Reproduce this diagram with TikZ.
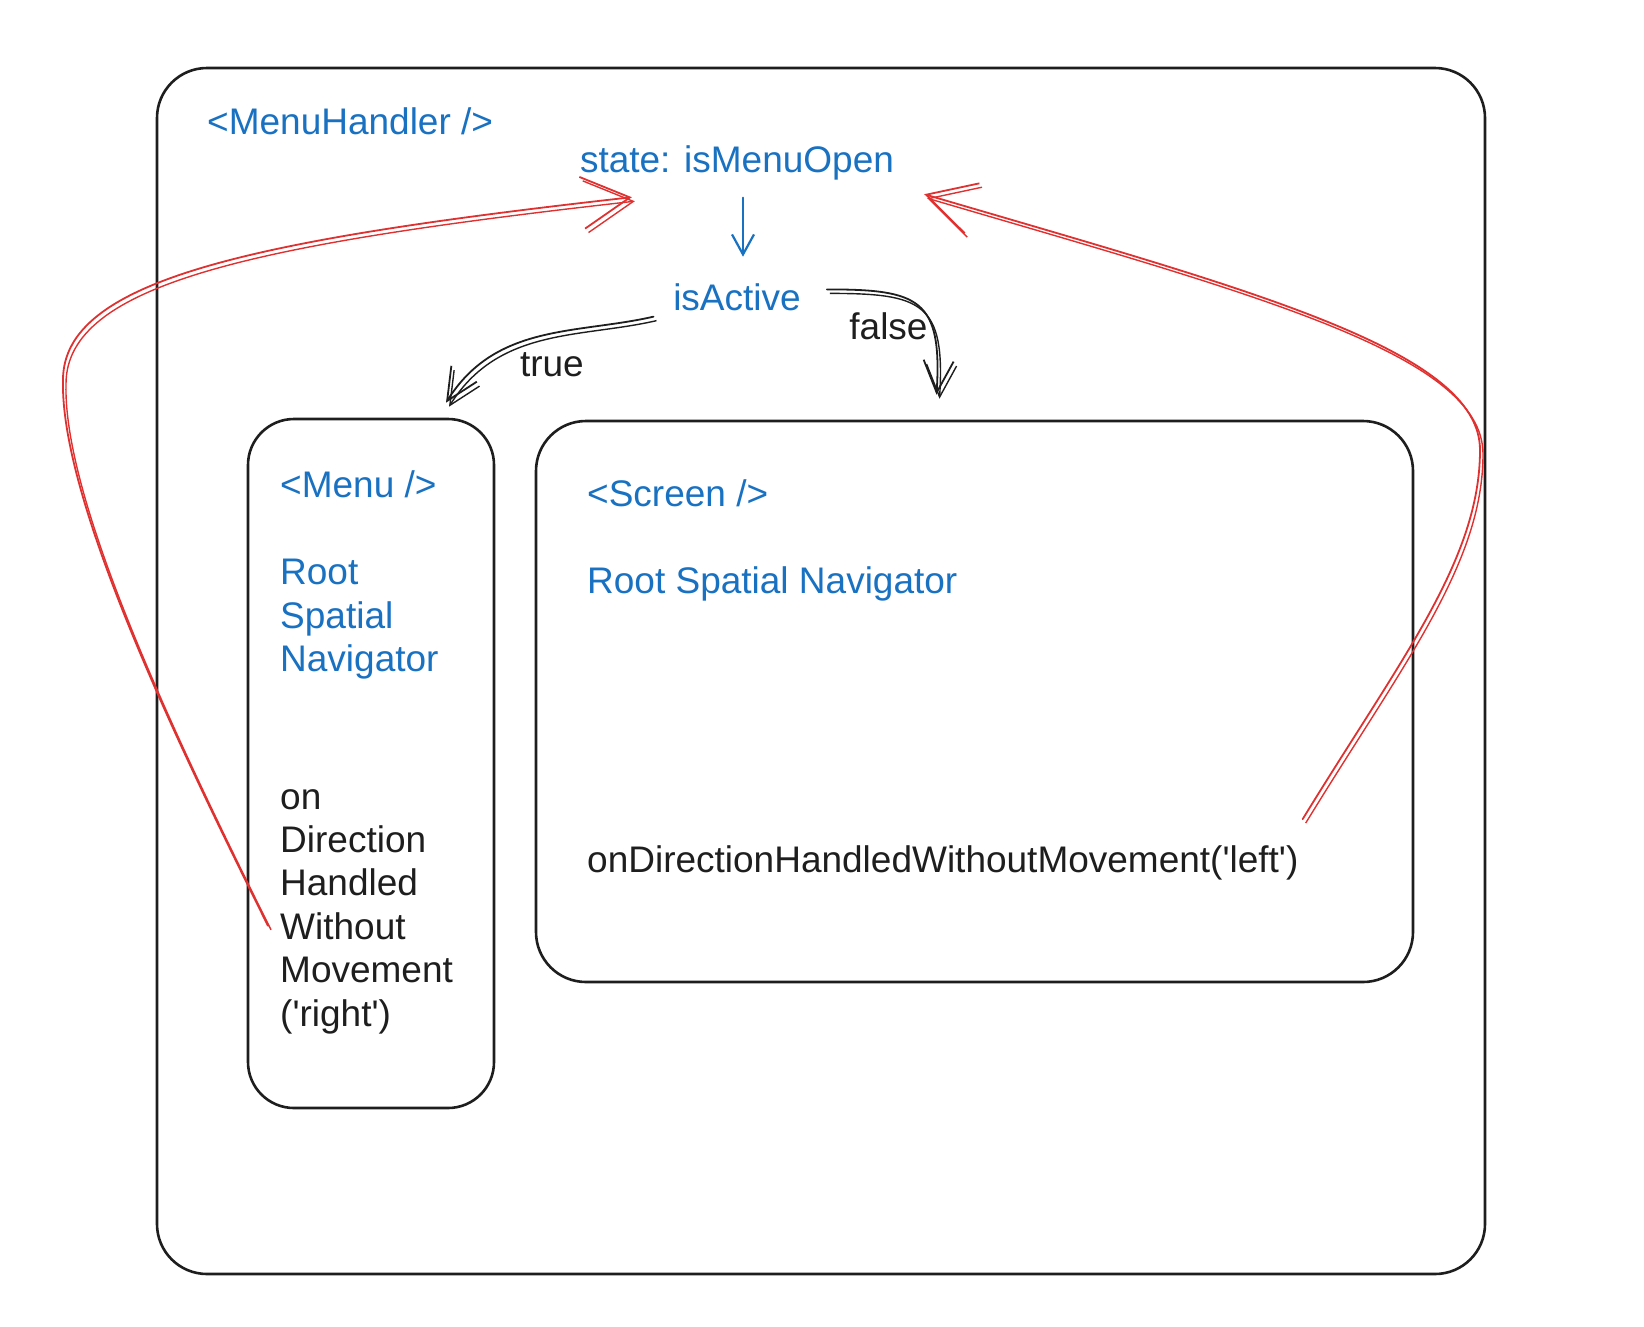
\documentclass[tikz,border=0pt]{standalone}
\usepackage{fontspec}
\setmainfont{Liberation Sans}
\usepackage{xcolor}
\usepackage{tikz}
\usetikzlibrary{arrows.meta,positioning,calc}

\definecolor{ink}{HTML}{1E1E1E}
\definecolor{codeblue}{HTML}{1971C2}
\definecolor{alarm}{HTML}{E03131}

\begin{document}
\begin{tikzpicture}[x=1pt, y=1pt, node distance=44pt,
    box/.style={draw=ink, line width=2.6pt, rounded corners=50pt, inner sep=0pt},
    code/.style={font=\fontsize{37}{43}\selectfont, text height=32pt, text depth=5pt, inner xsep=4pt, inner ysep=3pt},
    sketch/.style={preaction={draw=#1, line width=1.4pt, transform canvas={xshift=3pt, yshift=-4pt}}},
    flow/.style={->, >={Straight Barb[length=32pt, width=30pt]}, draw=ink, line width=1.8pt, line cap=round, sketch=ink},
    hint/.style={->, >={Straight Barb[length=20pt, width=22pt]}, draw=codeblue, line width=2.2pt, line cap=round},
    jump/.style={->, >={Straight Barb[length=48pt, width=52pt]}, draw=alarm, line width=1.8pt, line cap=round, sketch=alarm}]
    \useasboundingbox (0,0) rectangle (1644,-1326);

    % containers
    \node[box, minimum width=1328pt, minimum height=1206pt] (handler) at (821,-671) {};
    \node[box, rounded corners=46pt, minimum width=246pt, minimum height=689pt] (menu) at (371,-763.5) {};
    \node[box, minimum width=877pt, minimum height=561pt] (screen) at (974.5,-701.5) {};

    % handler state
    \node[code, text=codeblue, anchor=west] (handlertitle) at (203,-121) {<MenuHandler />};
    \node[code, text=codeblue] (state) at (737,-159) {state: isMenuOpen};
    \node[code, text=codeblue, below=95pt of state] (isActive) {isActive};

    % menu column
    \node[code, text=codeblue, anchor=west] (menutitle) at (276,-484) {<Menu />};
    \node[code, text=codeblue, below=of menutitle.south west, anchor=north west] (menuroot) {Root};
    \node[code, text=codeblue, below=0pt of menuroot.south west, anchor=north west] (menuspatial) {Spatial};
    \node[code, text=codeblue, below=0pt of menuspatial.south west, anchor=north west] (menunav) {Navigator};
    \node[code, text=ink, below=94pt of menunav.south west, anchor=north west] (on) {on};
    \node[code, text=ink, below=0pt of on.south west, anchor=north west] (direction) {Direction};
    \node[code, text=ink, below=0pt of direction.south west, anchor=north west] (handled) {Handled};
    \node[code, text=ink, below=0pt of handled.south west, anchor=north west] (without) {Without};
    \node[code, text=ink, below=0pt of without.south west, anchor=north west] (movement) {Movement};
    \node[code, text=ink, below=0pt of movement.south west, anchor=north west] (right) {(\textquotesingle right\textquotesingle)};

    % screen
    \node[code, text=codeblue, anchor=west] (screentitle) at (583,-493) {<Screen />};
    \node[code, text=codeblue, below=of screentitle.south west, anchor=north west] (screenroot) {Root Spatial Navigator};
    \node[code, text=ink, below=235pt of screenroot.south west, anchor=north west] (screencall) {onDirectionHandledWithoutMovement(\textquotesingle left\textquotesingle)};

    % isActive branches
    \path ([xshift=6pt]state.south) edge[hint, shorten <=17pt, shorten >=19pt] ([xshift=6pt]isActive.north);
    \path (isActive) edge[flow, out=193, in=58, shorten <=16pt] node[code, text=ink, xshift=10pt, yshift=-27pt] {true} ([xshift=75pt,yshift=15pt]menu.north);
    \draw[flow] ([xshift=22pt,yshift=8pt]isActive.east) .. controls +(92,0) and +(6,96) .. ([xshift=-38pt,yshift=25pt]screen.north)
        node[code, text=ink, pos=0.5, xshift=-30pt, yshift=-20pt] {false};

    % callbacks back to the state
    \draw[jump] ([xshift=-8pt]without.west) .. controls (177,-743) and (60,-500) .. (63,-380)
        .. controls (63,-280) and (250,-240) .. ([xshift=56pt,yshift=-16.5pt]state.south west);
    \draw[jump] ([yshift=18pt]screencall.north east) .. controls (1400,-660) and (1480,-560) .. (1480,-450)
        .. controls (1480,-350) and (1250,-290) .. ([xshift=26pt,yshift=-13.5pt]state.south east);
\end{tikzpicture}
\end{document}
